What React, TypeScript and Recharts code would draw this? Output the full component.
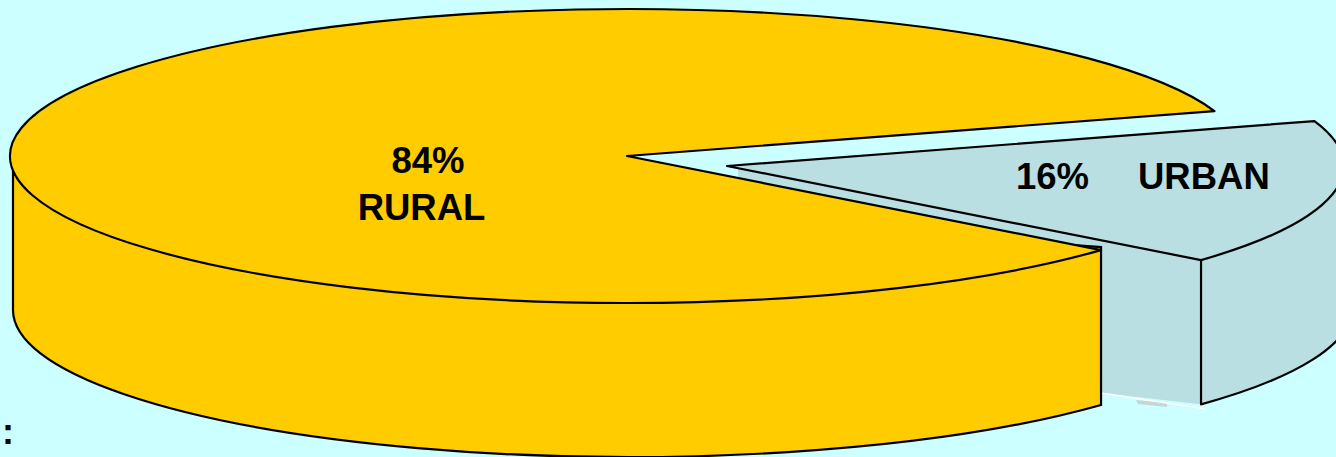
import { PieChart, Pie } from "recharts"

// Population split shown as an extruded, exploded pie
const sliceNames = ["URBAN", "RURAL"]
const sliceValues = [16, 84]
const sliceColors = ["#B9DFE2", "#FFCC00"]

const WIDTH = 1336
const HEIGHT = 457
const BACKGROUND = "#CCFFFF"
const LABEL_FONT = "'Liberation Sans', Arial, sans-serif"
const OUTLINE = 2.2

// The circle from the pie scale is squashed into this ellipse
const RADIUS_X = 617
const RADIUS_Y = 147

// Explode offset and the shift of the bottom rim, per slice
const extrusion: Record<string, { dx: number; dy: number; rimDx: number; rimDy: number }> = {
  URBAN: { dx: 100, dy: 10, rimDx: 8, rimDy: 142 },
  RURAL: { dx: 0, dy: 0, rimDx: 3, rimDy: 154 },
}

const chartData = sliceNames.map((name, i) => ({
  name,
  value: sliceValues[i],
  fill: sliceColors[i],
}))

const rad = (deg: number) => (deg * Math.PI) / 180

const onEllipse = (cx: number, cy: number, deg: number) => ({
  x: cx + RADIUS_X * Math.cos(rad(deg)),
  y: cy - RADIUS_Y * Math.sin(rad(deg)),
})

// y of the lower half of an ellipse at a given x
const lowerY = (cx: number, cy: number, x: number) => {
  const t = (x - cx) / RADIUS_X
  return cy + RADIUS_Y * Math.sqrt(Math.max(0, 1 - t * t))
}

const arcTo = (x: number, y: number, large = 0) =>
  `A ${RADIUS_X} ${RADIUS_Y} 0 ${large} 0 ${x} ${y}`

function ExtrudedSlice(props: any) {
  const { cx, cy, startAngle, endAngle, payload, fill } = props
  const name = payload?.name ?? props.name
  const { dx, dy, rimDx, rimDy } = extrusion[name]
  const x0 = cx + dx
  const y0 = cy + dy
  const rimX = x0 + rimDx
  const rimY = y0 + rimDy
  const from = onEllipse(x0, y0, startAngle)
  const to = onEllipse(x0, y0, endAngle)
  const large = endAngle - startAngle > 180 ? 1 : 0
  const top = `M ${x0} ${y0} L ${from.x} ${from.y} ${arcTo(to.x, to.y, large)} Z`

  if (name === "URBAN") {
    const cutBottom = lowerY(rimX, rimY, from.x)
    const wall = `M ${from.x} ${from.y} L ${from.x} ${cutBottom} ${arcTo(rimX + RADIUS_X, rimY)} L ${x0 + RADIUS_X} ${y0} Z`
    const cutFace = `M 738 ${y0 + 2} L ${from.x} ${from.y} L ${from.x} ${cutBottom} L 1101 393 L 738 200 Z`
    return (
      <g>
        <path d={cutFace} fill={fill} stroke="none" />
        <path d="M 1136 400 L 1167 403 L 1167 407 L 1138 404 Z" fill="#C4D6D8" stroke="none" />
        <path d="M 1101 393 L 1206 409" stroke="#FFFFFF" strokeWidth={1.5} fill="none" />
        <path d={wall} fill={fill} stroke="#000" strokeWidth={OUTLINE} strokeLinejoin="round" />
        <path d={top} fill={fill} stroke="#000" strokeWidth={OUTLINE} strokeLinejoin="round" />
      </g>
    )
  }

  // rural wall runs from the far left, under the front, to the cut
  const rimLeft = rimX - RADIUS_X
  const wall = `M ${rimLeft} ${y0 + 14} L ${rimLeft} ${rimY} ${arcTo(to.x, lowerY(rimX, rimY, to.x))} L ${to.x} ${to.y - 3} Z`
  return (
    <g>
      <path d={wall} fill={fill} stroke="#000" strokeWidth={OUTLINE} strokeLinejoin="miter" />
      <path d={top} fill={fill} stroke="#000" strokeWidth={OUTLINE} strokeLinejoin="round" />
    </g>
  )
}

function SliceLabel(props: any) {
  const { name, value } = props
  const common = {
    fontFamily: LABEL_FONT,
    fontSize: 36.5,
    fontWeight: 700,
    fill: "#000",
  }
  if (name === "RURAL") {
    return (
      <g>
        <text x={428} y={173} textAnchor="middle" {...common}>{`${value}%`}</text>
        <text x={421.5} y={220} textAnchor="middle" {...common}>{name}</text>
      </g>
    )
  }
  return (
    <g>
      <text x={1016} y={189} {...common}>{`${value}%`}</text>
      <text x={1138} y={189} {...common}>{name}</text>
    </g>
  )
}

export default function App() {
  return (
    <div style={{ position: "fixed", left: 0, top: 0, width: WIDTH, height: HEIGHT, background: BACKGROUND, overflow: "hidden" }}>
      <PieChart width={WIDTH} height={HEIGHT} margin={{ top: 0, right: 0, bottom: 0, left: 0 }}>
        <Pie
          data={chartData}
          dataKey="value"
          nameKey="name"
          cx={627}
          cy={156}
          outerRadius={RADIUS_X}
          startAngle={-39.8}
          endAngle={320.2}
          stroke="none"
          shape={ExtrudedSlice}
          label={SliceLabel}
          labelLine={false}
          isAnimationActive={false}
        />
      </PieChart>
      <span
        style={{
          position: "absolute",
          left: 2,
          top: 411,
          fontFamily: LABEL_FONT,
          fontSize: 36,
          fontWeight: 700,
          lineHeight: "41px",
          color: "#000",
        }}
      >
        :
      </span>
    </div>
  )
}
